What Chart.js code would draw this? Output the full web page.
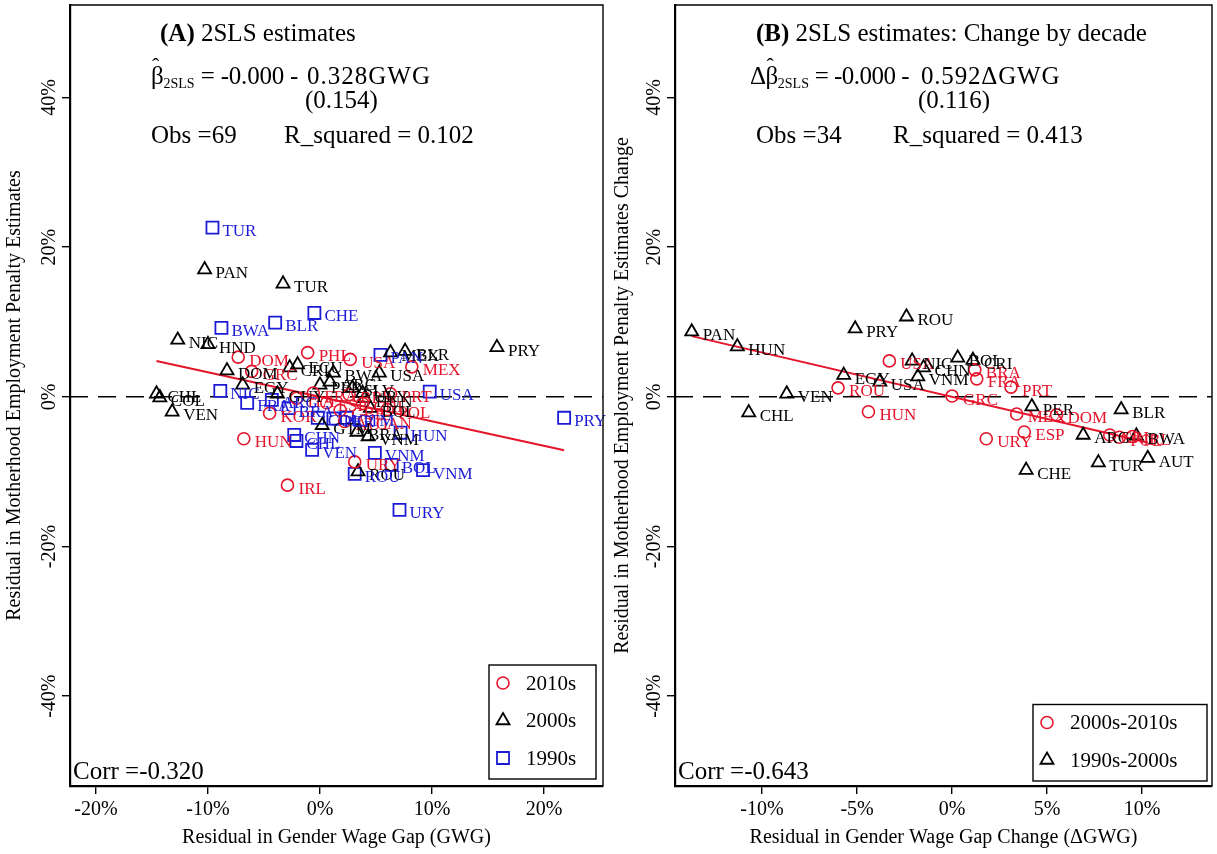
<!DOCTYPE html>
<html><head><meta charset="utf-8">
<script src="https://cdn.jsdelivr.net/npm/chart.js@4.4.1/dist/chart.umd.min.js"></script>
<style>
body{margin:0;background:#fff;}
#wrap{position:relative;width:1217px;height:854px;overflow:hidden;background:#fff;}
canvas{position:absolute;top:0;}
#ca{left:0;} #cb{left:608px;}
.t{position:absolute;font-family:"Liberation Serif","Times New Roman",serif;font-size:25px;line-height:1;color:#000;white-space:pre;}
.t sub{font-size:14px;vertical-align:-4px;letter-spacing:0;}
.bh{position:relative;display:inline-block;}
.hat{position:absolute;left:1px;top:-8px;font-size:22px;}
</style></head>
<body><div id="wrap">
<canvas id="ca" width="608" height="854"></canvas>
<canvas id="cb" width="609" height="854"></canvas>
<div class="t" style="left:160px;top:20px"><b>(A)</b> 2SLS estimates</div>
<div class="t" style="left:151px;top:63px;letter-spacing:-0.2px"><span class="bh">β<span class="hat">ˆ</span></span><sub>2SLS</sub> = -0.000 -</div>
<div class="t" style="left:307px;top:63px;letter-spacing:1px">0.328GWG</div>
<div class="t" style="left:305px;top:87px">(0.154)</div>
<div class="t" style="left:151px;top:122px">Obs =69</div>
<div class="t" style="left:284px;top:122px">R_squared = 0.102</div>
<div class="t" style="left:73px;top:758px">Corr =-0.320</div>
<div class="t" style="left:756px;top:20px"><b>(B)</b> 2SLS estimates: Change by decade</div>
<div class="t" style="left:750px;top:63px;letter-spacing:-0.5px">Δ<span class="bh">β<span class="hat">ˆ</span></span><sub>2SLS</sub> = -0.000 -</div>
<div class="t" style="left:921px;top:63px;letter-spacing:0.8px">0.592ΔGWG</div>
<div class="t" style="left:918px;top:87px">(0.116)</div>
<div class="t" style="left:756px;top:122px">Obs =34</div>
<div class="t" style="left:893px;top:122px">R_squared = 0.413</div>
<div class="t" style="left:678px;top:758px">Corr =-0.643</div>
</div>
<script>
// ---------- tick values ----------
const yTicks = [-40, -20, 0, 20, 40];
const aTicksX = [-20, -10, 0, 10, 20];
const bTicksX = [-10, -5, 0, 5, 10];

// ---------- Panel A: 2010s (red circles) ----------
const a2010X = [-7.3, -1.1, 2.7, 8.2, -6.1, -6.8, -2.9, 3.1, -4.5, -2.1, -0.6, 0.6, 1.8, 2.6, 6.3, 6.0, 4.0, 2.2, 3.8];
const a2010Y = [5.3, 5.9, 5.0, 4.0, 3.4, -5.6, -11.8, -8.7, -2.2, -0.2, 0.5, -0.8, -1.8, 0.3, 0.4, -1.7, -3.2, -3.3, -0.9];
const a2010Lab = ["DOM", "PHL", "USA", "MEX", "GRC", "HUN", "IRL", "URY", "KOR", "ITA", "FRA", "ESP", "GBR", "BRA", "PRT", "POL", "CAN", "AUT", "CHL"];

// ---------- Panel A: 2000s (black triangles) ----------
const a2000X = [-10.3, -3.3, -12.7, -10.0, -8.3, -14.6, -14.3, -13.2, 15.8, -2.7, -2.0, 1.2, 5.3, 6.3, 7.6, -6.9, -3.8, 0.0, 0.9, 2.9, 3.8, 4.0, 4.5, 0.2, 3.3, 4.3, 3.4];
const a2000Y = [17.0, 15.1, 7.6, 7.0, 3.5, 0.4, -0.1, -2.0, 6.6, 3.9, 4.3, 3.2, 3.2, 5.9, 6.1, 1.6, 0.4, 1.6, 2.0, 1.2, 0.5, -0.2, -1.5, -3.8, -4.7, -5.3, -10.0];
const a2000Lab = ["PAN", "TUR", "NIC", "HND", "DOM", "CHL", "COL", "VEN", "PRY", "CRI", "ECU", "BWA", "USA", "MEX", "BLR", "EGY", "GUY", "PER", "ARG", "SLV", "URY", "HUN", "BOL", "GTM", "BRA", "VNM", "ROU"];

// ---------- Panel A: 1990s (blue squares) ----------
const a1990X = [-9.6, -8.8, -4.0, -0.5, -8.9, 5.4, 9.8, 21.8, -6.5, -4.3, -2.8, -0.2, 1.2, 2.4, -2.3, -2.1, -0.7, 7.2, 4.9, 9.2, 6.4, 3.1, 7.1];
const a1990Y = [22.6, 9.2, 9.9, 11.2, 0.8, 5.6, 0.7, -2.8, -0.8, -0.4, -1.5, -2.8, -2.9, -2.8, -5.1, -5.9, -7.1, -4.8, -7.5, -9.8, -9.1, -10.3, -15.1];
const a1990Lab = ["TUR", "BWA", "BLR", "CHE", "NIC", "PAN", "USA", "PRY", "FRA", "ARG", "BRA", "COL", "PER", "GTM", "CHN", "CHL", "VEN", "HUN", "VNM", "VNM", "BOL", "ROU", "URY"];

// ---------- Panel B: 2000s-2010s (red circles) ----------
const b1X = [-6.0, -4.4, -3.3, 0.0, 1.3, 1.2, 3.1, 3.4, 5.5, 3.8, 1.8, 8.3, 9.5, 8.8];
const b1Y = [1.2, -2.0, 4.8, 0.1, 2.4, 3.6, 1.3, -2.3, -2.4, -4.7, -5.6, -5.1, -5.3, -5.4];
const b1Lab = ["ROU", "HUN", "USA", "GRC", "FRA", "BRA", "PRT", "MEX", "DOM", "ESP", "URY", "CRI", "IRL", "POL"];

// ---------- Panel B: 1990s-2000s (black triangles) ----------
const b2X = [-13.7, -11.3, -8.7, -10.7, -5.7, -3.8, -5.1, -2.4, -2.1, -1.5, -1.8, 0.3, 1.1, 4.2, 8.9, 6.9, 9.7, 7.7, 10.3, 3.9];
const b2Y = [8.7, 6.7, 0.4, -2.1, 2.9, 2.0, 9.1, 10.7, 4.8, 3.9, 2.7, 5.2, 4.9, -1.3, -1.7, -5.1, -5.2, -8.8, -8.2, -9.8];
const b2Lab = ["PAN", "HUN", "VEN", "CHL", "EGY", "USA", "PRY", "ROU", "NIC", "CHN", "VNM", "BOL", "CRI", "PER", "BLR", "ARG", "BWA", "TUR", "AUT", "CHE"];

// ---------- fitted slopes (from the reference annotations) ----------
const slopeA = -0.328;
const slopeB = -0.592;

const RED = 'rgb(228,20,42)', BLK = '#000', BLU = 'rgb(28,28,214)';
const FONT = '"Liberation Serif","Times New Roman",serif';

function pts(xs, ys) { return xs.map((x, i) => ({ x: x, y: ys[i] })); }
function fitLine(slope, lists) {
  const all = [].concat(...lists);
  const lo = Math.min(...all), hi = Math.max(...all);
  return [{ x: lo, y: slope * lo }, { x: hi, y: slope * hi }];
}

const STYLE = {
  circle: { radius: 6, bw: 1.6 },
  triangle: { radius: 7.5, bw: 1.8 },
  rect: { radius: 8.5, bw: 1.8 }
};

function scatterDs(label, xs, ys, labs, color, style) {
  return {
    type: 'scatter', label: label, data: pts(xs, ys), ptLabels: labs,
    pointStyle: style, pointRadius: STYLE[style].radius, pointBorderWidth: STYLE[style].bw,
    borderColor: color, backgroundColor: 'rgba(0,0,0,0)', pointBackgroundColor: 'rgba(0,0,0,0)',
    pointBorderColor: color, showLine: false, isLegend: true
  };
}

const labelPlugin = {
  id: 'ptLabels',
  afterDatasetsDraw(chart) {
    const ctx = chart.ctx;
    ctx.save();
    ctx.font = '17px ' + FONT; ctx.textBaseline = 'middle'; ctx.textAlign = 'left';
    chart.data.datasets.forEach((ds, di) => {
      if (!ds.ptLabels) return;
      const meta = chart.getDatasetMeta(di);
      const dx = ds.pointStyle === 'rect' ? 10 : 11;
      ctx.fillStyle = ds.borderColor;
      meta.data.forEach((el, i) => { ctx.fillText(ds.ptLabels[i], el.x + dx, el.y + 4); });
    });
    ctx.restore();
  }
};

const framePlugin = {
  id: 'frame',
  beforeDatasetsDraw(chart) {
    const { ctx, chartArea: a, scales: { y } } = chart;
    const py = y.getPixelForValue(0);
    ctx.save(); ctx.strokeStyle = '#000'; ctx.lineWidth = 1.5; ctx.setLineDash([18, 10]);
    ctx.beginPath(); ctx.moveTo(a.left, py); ctx.lineTo(a.right, py); ctx.stroke(); ctx.restore();
  },
  afterDraw(chart) {
    const { ctx, chartArea: a, scales: { y } } = chart;
    ctx.save();
    ctx.strokeStyle = '#000'; ctx.lineWidth = 1.4;
    ctx.beginPath(); ctx.moveTo(a.left, a.top); ctx.lineTo(a.right, a.top); ctx.lineTo(a.right, a.bottom); ctx.stroke();
    // rotated y tick labels
    ctx.font = '20px ' + FONT; ctx.fillStyle = '#000'; ctx.textAlign = 'center'; ctx.textBaseline = 'middle';
    y.ticks.forEach(t => {
      const py = y.getPixelForValue(t.value);
      ctx.save(); ctx.translate(a.left - 20, py); ctx.rotate(-Math.PI / 2);
      ctx.fillText(t.value + '%', 0, 0); ctx.restore();
    });
    // legend
    const items = chart.data.datasets.filter(d => d.isLegend);
    const opts = chart.options.plugins.frame;
    const rowH = 37.5;
    const boxW = opts.legendWidth, boxH = items.length * rowH + 1.5;
    const bx = a.right - opts.legendInset - boxW, by = a.bottom - opts.legendInset - boxH;
    ctx.fillStyle = '#fff'; ctx.fillRect(bx, by, boxW, boxH);
    ctx.lineWidth = 1.4; ctx.strokeStyle = '#000'; ctx.strokeRect(bx, by, boxW, boxH);
    ctx.font = '21px ' + FONT; ctx.textAlign = 'left'; ctx.textBaseline = 'middle';
    items.forEach((d, i) => {
      const cy = by + 18 + i * rowH;
      const st = STYLE[d.pointStyle];
      ctx.strokeStyle = d.borderColor; ctx.fillStyle = 'rgba(0,0,0,0)'; ctx.lineWidth = st.bw;
      Chart.helpers.drawPoint(ctx, { pointStyle: d.pointStyle, radius: st.radius, borderWidth: st.bw, rotation: 0 }, bx + 14, cy);
      ctx.fillStyle = '#000';
      ctx.fillText(d.label, bx + 37, cy + 1);
    });
    ctx.restore();
  }
};

function zeroPad(s) { s.paddingLeft = 0; s.paddingRight = 0; s.paddingTop = 0; s.paddingBottom = 0; }

function makeChart(id, datasets, xMin, xMax, xTicks, yTitle, xTitle, yAxisW, legendWidth, legendInset) {
  return new Chart(document.getElementById(id), {
    data: { datasets: datasets },
    plugins: [framePlugin, labelPlugin],
    options: {
      responsive: false, animation: false, events: [],
      layout: { autoPadding: false, padding: { top: 5, right: 5, left: 0, bottom: 0 } },
      plugins: { legend: { display: false }, tooltip: { enabled: false }, frame: { legendWidth: legendWidth, legendInset: legendInset } },
      scales: {
        x: {
          type: 'linear', min: xMin, max: xMax,
          afterBuildTicks: s => { s.ticks = xTicks.map(v => ({ value: v })); },
          afterFit: s => { s.height = 68; zeroPad(s); },
          grid: { display: true, drawOnChartArea: false, drawTicks: true, tickLength: 8, color: '#000', lineWidth: 1.4 },
          border: { display: true, color: '#000', width: 2.2 },
          ticks: { color: '#000', font: { family: FONT, size: 20 }, padding: 4, callback: v => v + '%', maxRotation: 0 },
          title: { display: true, text: xTitle, color: '#000', font: { family: FONT, size: 20 }, padding: { top: 0, bottom: 4 } }
        },
        y: {
          type: 'linear', min: -52.0, max: 52.35,
          afterBuildTicks: s => { s.ticks = yTicks.map(v => ({ value: v })); },
          afterFit: s => { s.width = yAxisW; zeroPad(s); },
          grid: { display: true, drawOnChartArea: false, drawTicks: true, tickLength: 8, color: '#000', lineWidth: 1.4 },
          border: { display: true, color: '#000', width: 2.2 },
          ticks: { display: false },
          title: { display: true, text: yTitle, color: '#000', font: { family: FONT, size: 20 }, padding: { top: 3, bottom: 0 } }
        }
      }
    }
  });
}

const dsA = [
  scatterDs('2010s', a2010X, a2010Y, a2010Lab, RED, 'circle'),
  scatterDs('2000s', a2000X, a2000Y, a2000Lab, BLK, 'triangle'),
  scatterDs('1990s', a1990X, a1990Y, a1990Lab, BLU, 'rect'),
  { type: 'line', label: 'fit', data: fitLine(slopeA, [a2010X, a2000X, a1990X]), borderColor: RED, borderWidth: 2, pointRadius: 0, fill: false }
];
const dsB = [
  scatterDs('2000s-2010s', b1X, b1Y, b1Lab, RED, 'circle'),
  scatterDs('1990s-2000s', b2X, b2Y, b2Lab, BLK, 'triangle'),
  { type: 'line', label: 'fit', data: fitLine(slopeB, [b1X, b2X]), borderColor: RED, borderWidth: 2, pointRadius: 0, fill: false }
];

makeChart('ca', dsA, -22.32, 25.27, aTicksX,
  'Residual in Motherhood Employment Penalty Estimates', 'Residual in Gender Wage Gap (GWG)', 70, 107, 7);
makeChart('cb', dsB, -14.58, 13.68, bTicksX,
  'Residual in Motherhood Employment Penalty Estimates Change', 'Residual in Gender Wage Gap Change (ΔGWG)', 67, 174, 5);
</script>
</body></html>
